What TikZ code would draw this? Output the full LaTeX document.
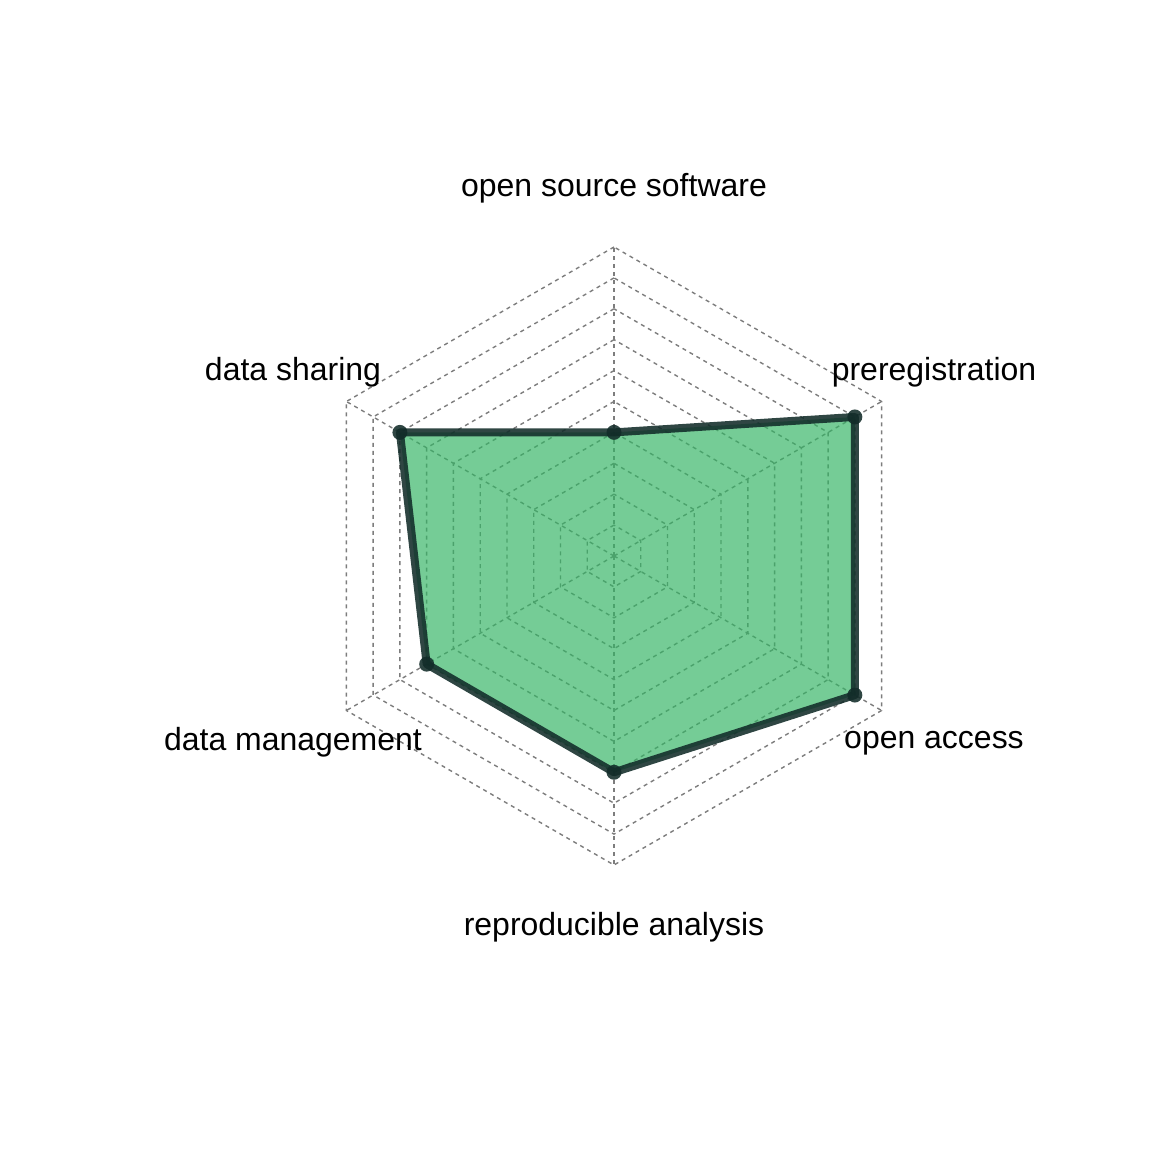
\documentclass[tikz,border=0pt]{standalone}
\usepackage{fontspec}
\setmainfont{Liberation Sans}
\usetikzlibrary{calc}
\definecolor{areafill}{RGB}{52,180,100}
\definecolor{arealine}{RGB}{18,44,41}
\definecolor{gridgray}{RGB}{125,125,125}
\tikzset{
  gridline/.style={draw=gridgray, line width=1.4bp, dash pattern=on 4bp off 4bp},
  area/.style={fill=areafill, fill opacity=0.68, draw=none},
  border/.style={draw=arealine, draw opacity=0.88, line width=8bp, line join=round},
  datadot/.style={fill=arealine, fill opacity=0.88},
  axislabel/.style={anchor=base, inner sep=0pt, font=\fontsize{32.1}{38}\selectfont}
}
\begin{document}
\begin{tikzpicture}[x=1bp,y=1bp]
\useasboundingbox (0,0) rectangle (1152,1152);
\coordinate (C) at (614,596);
% grid hexagons
\foreach \k in {1,...,10}{
  \draw[gridline] ($(C)+(90:30.9*\k)$) -- ($(C)+(150:30.9*\k)$) -- ($(C)+(210:30.9*\k)$)
     -- ($(C)+(270:30.9*\k)$) -- ($(C)+(330:30.9*\k)$) -- ($(C)+(30:30.9*\k)$) -- cycle;
}
% spokes
\foreach \a in {90,150,210,270,330,30}{
  \coordinate (o\a) at ($(C)+(\a:309)$);
  \draw[gridline] (C) -- (o\a);
}
% data points
\coordinate (pos) at ($(C)+(90:123.6)$);
\coordinate (pds) at ($(C)+(150:247.2)$);
\coordinate (pdm) at ($(C)+(210:216.3)$);
\coordinate (pra) at ($(C)+(270:216.3)$);
\coordinate (poa) at ($(C)+(330:278.1)$);
\coordinate (ppr) at ($(C)+(30:278.1)$);
\fill[area] (pos) -- (pds) -- (pdm) -- (pra) -- (poa) -- (ppr) -- cycle;
\draw[border] (pos) -- (pds) -- (pdm) -- (pra) -- (poa) -- (ppr) -- cycle;
\foreach \p in {pos,pds,pdm,pra,poa,ppr}{
  \fill[datadot] (\p) circle (7.5);
}
% labels
\node[axislabel] (los) at (614,955) {open source software};
\node[axislabel] (lds) at (293,771) {data sharing};
\node[axislabel] (lpr) at (934,771) {preregistration};
\node[axislabel] (ldm) at (293,401) {data management};
\node[axislabel] (loa) at (934,403) {open access};
\node[axislabel] (lra) at (614,216) {reproducible analysis};
\end{tikzpicture}
\end{document}
